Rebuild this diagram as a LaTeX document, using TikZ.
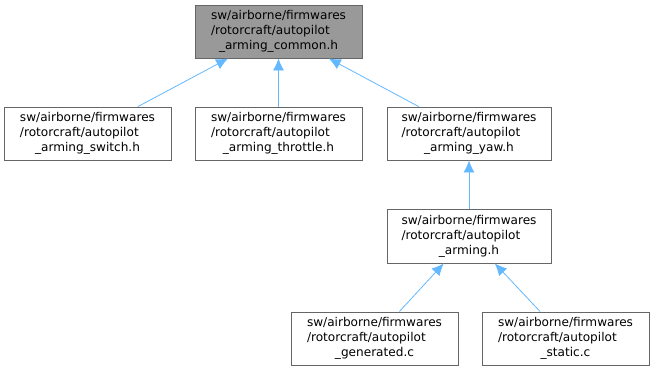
\documentclass[tikz,border=0pt]{standalone}
\usepackage{fontspec}
\setmainfont{DejaVu Sans}
\usetikzlibrary{arrows.meta}

\definecolor{edgeblue}{HTML}{63B8FF}
\definecolor{boxgray}{HTML}{666666}
\definecolor{curfill}{HTML}{999999}

% three line file label, last line centred
\newcommand{\hfile}[1]{\begin{tabular}{@{}l@{}}sw/airborne/firmwares\\/rotorcraft/autopilot\\\multicolumn{1}{@{}c@{}}{\_#1}\end{tabular}}

\begin{document}
\begin{tikzpicture}[x=1pt,y=-1pt,font=\fontsize{12.1}{15}\selectfont,
  file node/.style={draw=boxgray,fill=white,line width=0.9pt,minimum width=167pt,minimum height=53pt,inner sep=0pt},
  cur node/.style={file node,fill=curfill},
  dep/.style={draw=edgeblue,line width=0.8pt,-{Latex[length=12pt,width=11pt,fill=edgeblue]}}]
\useasboundingbox (0,0) rectangle (655,373);

\node[cur node] (common) at (278.5,31.5) {\hfile{arming\_common.h}};
\node[file node] (switch) at (87.5,133.5) {\hfile{arming\_switch.h}};
\node[file node] (throttle) at (278.5,133.5) {\hfile{arming\_throttle.h}};
\node[file node,minimum width=164pt] (yaw) at (469,133.5) {\hfile{arming\_yaw.h}};
\node[file node,minimum width=164pt,minimum height=54pt] (arming) at (469,236) {\hfile{arming.h}};
\node[file node] (generated) at (374.5,338.5) {\hfile{generated.c}};
\node[file node] (static) at (565.5,338.5) {\hfile{static.c}};

\path[dep]
  (switch) edge (common)
  (throttle) edge (common)
  (yaw) edge (common)
  (arming) edge (yaw)
  (generated) edge (arming)
  (static) edge (arming);

\end{tikzpicture}
\end{document}
